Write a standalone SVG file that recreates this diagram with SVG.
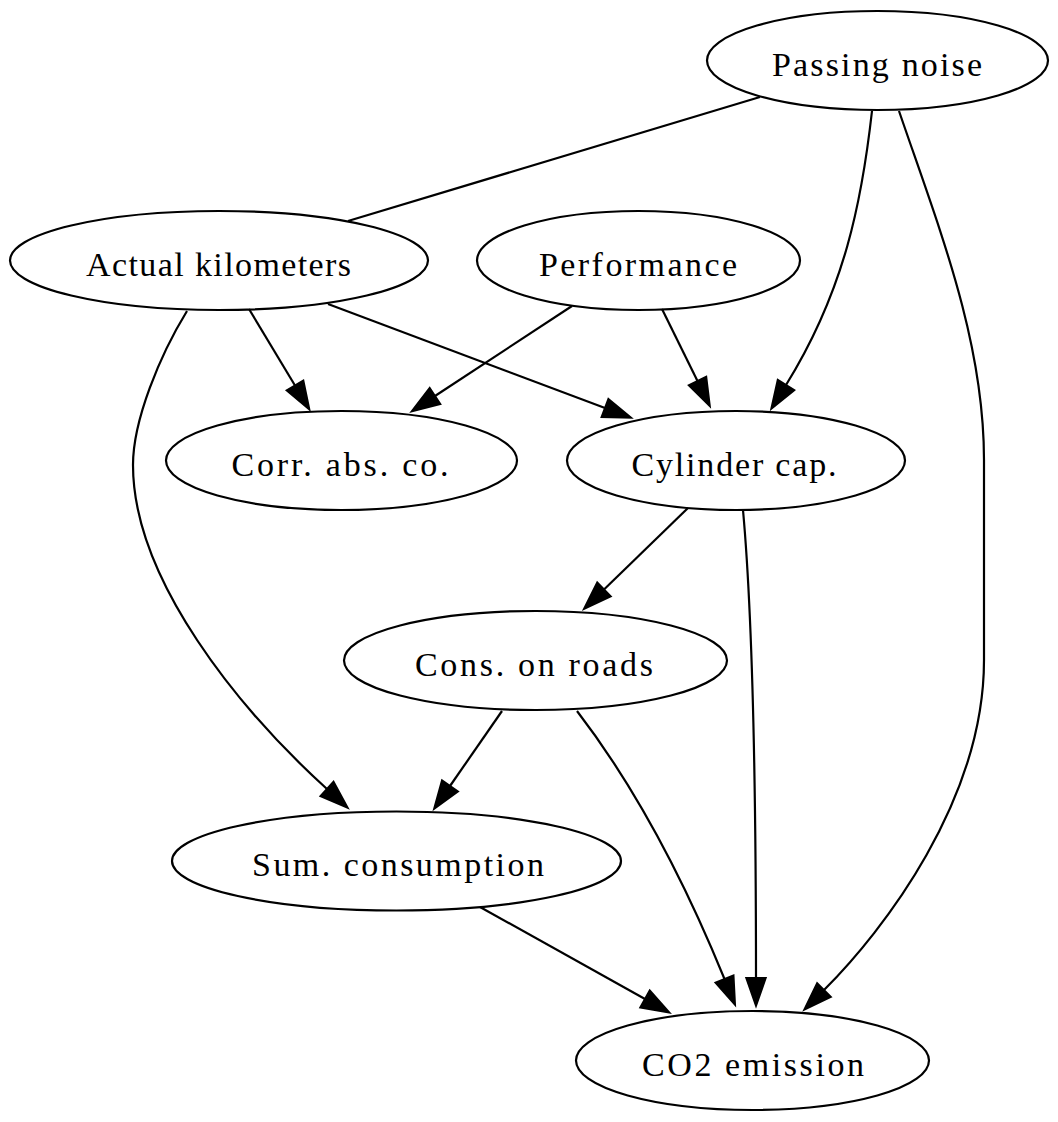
<svg xmlns="http://www.w3.org/2000/svg" width="1058" height="1122" viewBox="0 0 1058 1122">
<style>
.node ellipse{fill:none;stroke:#000;stroke-width:2.2}
.node text{font-family:"Liberation Serif","Times New Roman",serif;font-size:34px;fill:#000;text-anchor:middle}
.edges path{fill:none;stroke:#000;stroke-width:2.2}
</style>
<defs>
<marker id="arr" markerUnits="userSpaceOnUse" orient="auto" refX="0" refY="0" markerWidth="40" markerHeight="40" viewBox="-5 -20 40 40" overflow="visible">
<path d="M0,-9.7 L27.8,0 L0,9.7 Z" fill="#000" stroke="#000" stroke-width="2"/>
</marker>
</defs>
<rect width="1058" height="1122" fill="#fff"/>
<g class="edges" id="edges">
<path id="e_pn_ak" d="M760,97 L348,221"/>
<path id="e_pn_cyl" d="M872,111 C862,200 845,290 786,385" marker-end="url(#arr)"/>
<path id="e_pn_co2" d="M899,111 C939,228 984,340 984,460 L984,660 C984,800 884,930 824,990" marker-end="url(#arr)"/>
<path id="e_ak_corr" d="M249,309 L295,385.5" marker-end="url(#arr)"/>
<path id="e_ak_cyl" d="M328,304 L605,408" marker-end="url(#arr)"/>
<path id="e_ak_sum" d="M187,311 C160,355 133,420 133,465 C133,580 240,710 327,789" marker-end="url(#arr)"/>
<path id="e_perf_corr" d="M572,306 L435,396" marker-end="url(#arr)"/>
<path id="e_perf_cyl" d="M662,309 L697.5,381" marker-end="url(#arr)"/>
<path id="e_cyl_cons" d="M688,508 L604,589.5" marker-end="url(#arr)"/>
<path id="e_cyl_co2" d="M743,510 C753,620 756,800 756,978" marker-end="url(#arr)"/>
<path id="e_cons_sum" d="M502,711 L450,786" marker-end="url(#arr)"/>
<path id="e_cons_co2" d="M577,711 C630,780 680,870 724.5,979" marker-end="url(#arr)"/>
<path id="e_sum_co2" d="M480,907 L645,999" marker-end="url(#arr)"/>
</g>
<g class="node" id="passing_noise"><ellipse cx="877.5" cy="60.5" rx="170.5" ry="49.5"/><text x="877" y="75.5" textLength="210" lengthAdjust="spacing">Passing noise</text></g>
<g class="node" id="actual_km"><ellipse cx="219" cy="260.5" rx="209" ry="49.5"/><text x="218.5" y="275.5" textLength="265" lengthAdjust="spacing">Actual kilometers</text></g>
<g class="node" id="performance"><ellipse cx="638.5" cy="260.5" rx="161.5" ry="49.5"/><text x="638" y="275.5" textLength="198" lengthAdjust="spacing">Performance</text></g>
<g class="node" id="corr_abs"><ellipse cx="341.5" cy="460.5" rx="175.5" ry="49.5"/><text x="340" y="475.5" textLength="217" lengthAdjust="spacing">Corr. abs. co.</text></g>
<g class="node" id="cylinder"><ellipse cx="736" cy="460.5" rx="169" ry="49.5"/><text x="734" y="475.5" textLength="205" lengthAdjust="spacing">Cylinder cap.</text></g>
<g class="node" id="cons_roads"><ellipse cx="535.5" cy="660.5" rx="191.5" ry="49.5"/><text x="534" y="675.5" textLength="238" lengthAdjust="spacing">Cons. on roads</text></g>
<g class="node" id="sum_cons"><ellipse cx="396.5" cy="861" rx="224.5" ry="49.5"/><text x="398" y="876" textLength="292" lengthAdjust="spacing">Sum. consumption</text></g>
<g class="node" id="co2"><ellipse cx="752.5" cy="1060.5" rx="176.5" ry="49.5"/><text x="753" y="1075.5" textLength="222" lengthAdjust="spacing">CO2 emission</text></g>
</svg>
